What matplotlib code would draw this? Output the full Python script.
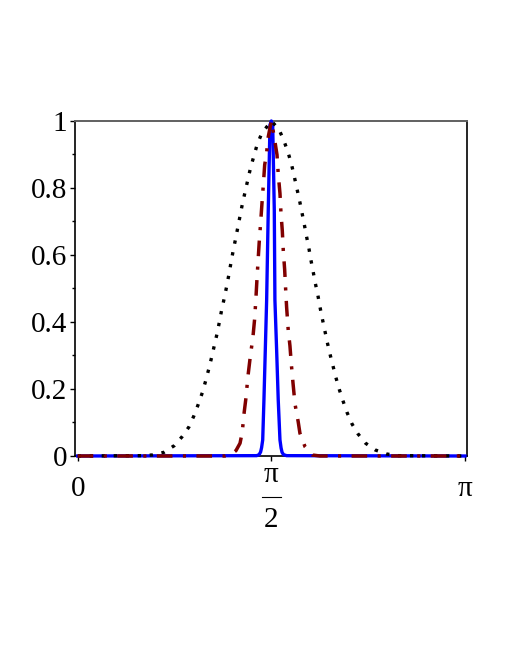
import numpy as np
import matplotlib
matplotlib.use('Agg')
import matplotlib.pyplot as plt

plt.rcParams['font.family'] = ['Liberation Serif', 'DejaVu Serif']

# values
dotted_x = [0.0, 0.519, 0.605, 0.700, 0.784, 0.848, 0.903, 0.943, 0.978, 1.011,
            1.038, 1.063, 1.087, 1.108, 1.130, 1.149, 1.168, 1.189, 1.209, 1.227,
            1.244, 1.262, 1.282, 1.300, 1.319, 1.338, 1.360, 1.381, 1.403, 1.430,
            1.457, 1.4935, 1.571, 1.633, 1.673, 1.706, 1.733, 1.755, 1.776, 1.798,
            1.817, 1.836, 1.854, 1.874, 1.890, 1.909, 1.927, 1.947, 1.965, 1.984,
            2.004, 2.025, 2.047, 2.071, 2.095, 2.122, 2.152, 2.184, 2.225, 2.274,
            2.336, 2.414, 2.506, 2.601, 3.1416]
dotted_y = [0.0, 0.001, 0.003, 0.011, 0.031, 0.058, 0.087, 0.120, 0.154, 0.189,
            0.224, 0.259, 0.295, 0.329, 0.364, 0.399, 0.436, 0.471, 0.507, 0.542,
            0.578, 0.614, 0.650, 0.684, 0.720, 0.756, 0.791, 0.826, 0.861, 0.896,
            0.931, 0.963, 1.0, 0.975, 0.941, 0.907, 0.873, 0.838, 0.802, 0.766,
            0.731, 0.696, 0.660, 0.624, 0.589, 0.553, 0.517, 0.483, 0.446, 0.411,
            0.376, 0.339, 0.304, 0.269, 0.234, 0.199, 0.165, 0.131, 0.096, 0.066,
            0.038, 0.018, 0.006, 0.001, 0.0]

dashdot_x = [0.0, 1.195, 1.249, 1.284, 1.317, 1.335, 1.349, 1.365, 1.381, 1.400,
             1.422, 1.436, 1.446, 1.454, 1.463, 1.473, 1.484, 1.495, 1.506, 1.517,
             1.533, 1.541, 1.571, 1.592, 1.617, 1.627, 1.641, 1.649, 1.660, 1.668,
             1.679, 1.687, 1.695, 1.708, 1.722, 1.733, 1.747, 1.763, 1.789, 1.803,
             1.844, 1.903, 1.965, 3.1416]
dashdot_y = [0.0, 0.0, 0.006, 0.016, 0.038, 0.071, 0.125, 0.173, 0.237, 0.296,
             0.356, 0.411, 0.471, 0.525, 0.580, 0.640, 0.695, 0.754, 0.809, 0.869,
             0.904, 0.943, 1.0, 0.958, 0.899, 0.842, 0.784, 0.727, 0.672, 0.613,
             0.557, 0.499, 0.444, 0.376, 0.329, 0.275, 0.217, 0.155, 0.102, 0.068,
             0.028, 0.003, 0.0, 0.0]

solid_x = [0.0, 1.452, 1.472, 1.484, 1.492, 1.501, 1.511, 1.522, 1.533, 1.546,
           1.560, 1.571, 1.582, 1.595, 1.600, 1.614, 1.627, 1.641, 1.650, 1.658,
           1.670, 1.695, 3.1416]
solid_y = [0.0, 0.001, 0.004, 0.012, 0.025, 0.048, 0.167, 0.316, 0.466, 0.734,
           0.988, 1.0, 0.988, 0.734, 0.466, 0.316, 0.167, 0.048, 0.024, 0.011,
           0.004, 0.001, 0.0]

xticks = [0, np.pi/2, np.pi]
xtick_labels = ['0', '', 'π']
yticks = [0, 0.2, 0.4, 0.6, 0.8, 1]
ytick_labels = ['0', '0.2', '0.4', '0.6', '0.8', '1']
yminor = [0.1, 0.3, 0.5, 0.7, 0.9]

fig = plt.figure(figsize=(5.1, 6.6), dpi=100)
ax = fig.add_axes([0.147, 0.3091, 0.7686, 0.5076])

ax.plot(solid_x, solid_y, color='#0000ff', lw=2.4, clip_on=False, zorder=3)
ax.plot(dotted_x, dotted_y, color='black', lw=2.4, ls=(0, (1, 2.6)),
        clip_on=False, zorder=4)
ax.plot(dashdot_x, dashdot_y, color='#800000', lw=2.5, ls=(0, (4.5, 3, 0.9, 3)),
        clip_on=False, zorder=5)

ax.set_xlim(-0.022, 3.158)
ax.set_ylim(0, 1)
ax.set_xticks(xticks, xtick_labels)
ax.set_yticks(yticks, ytick_labels)
ax.set_yticks(yminor, minor=True)
ax.tick_params(axis='both', labelsize=21, direction='out', length=3.6, width=1)
ax.tick_params(axis='y', which='minor', length=2, width=1)
ax.tick_params(axis='y', pad=2)
ax.tick_params(axis='x', pad=20)
for lbl in ax.get_xticklabels():
    lbl.set_va('center')
for lbl in ax.get_yticklabels():
    lbl.set_va('center_baseline')

# pi/2 label written as a stacked fraction
tr = ax.get_xaxis_transform()
ax.text(np.pi/2, -0.056, 'π', transform=tr, ha='center', va='center', fontsize=21)
ax.text(np.pi/2, -0.19, '2', transform=tr, ha='center', va='center', fontsize=21)
ax.plot([np.pi/2 - 0.077, np.pi/2 + 0.077], [-0.122, -0.122], transform=tr,
        color='black', lw=0.8, clip_on=False)

for s in ['left', 'right', 'bottom']:
    ax.spines[s].set_color('black')
    ax.spines[s].set_linewidth(1.2)
ax.spines['top'].set_color('#606060')
ax.spines['top'].set_linewidth(1.4)

fig.savefig('out.png', dpi=100)
